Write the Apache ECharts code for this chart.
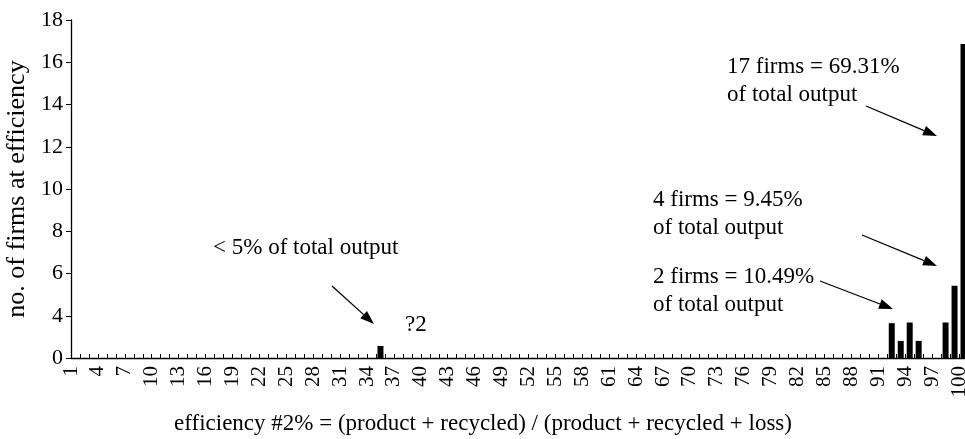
<!DOCTYPE html>
<html>
<head>
<meta charset="utf-8">
<script src="https://cdn.jsdelivr.net/npm/echarts@6/dist/echarts.min.js"></script>
<style>
  html, body { margin: 0; padding: 0; background: #fff; }
  #chart { width: 965px; height: 439px; }
</style>
</head>
<body>
<div id="chart"></div>
<script>
// efficiency classes that hold firms, and the bar heights
const barEfficiency = [35, 92, 93, 94, 95, 98, 99, 100]
const barFirms = [2.57, 3.65, 2.81, 3.68, 2.81, 3.68, 5.42, 16.86]

// efficiency classes 1..100 (one band each)
const efficiencyClasses = []
for (let i = 1; i <= 100; i++) efficiencyClasses.push(String(i))

const FONT = 'Liberation Serif'

const chart = echarts.init(document.getElementById('chart'))

const seriesData = efficiencyClasses.map(c => {
  const k = barEfficiency.indexOf(Number(c))
  return k >= 0 ? barFirms[k] : 0
})

// annotation texts (pixel layout)
const notes = [
  { lines: ['< 5% of total output'], x: 213, y: 248 },
  { lines: ['?2'], x: 405, y: 325 },
  { lines: ['2 firms = 10.49%', 'of total output'], x: 653, y: 277 },
  { lines: ['4 firms = 9.45%', 'of total output'], x: 653, y: 200 },
  { lines: ['17 firms = 69.31%', 'of total output'], x: 727, y: 67 }
]
const arrows = [
  [332, 286, 374, 324],
  [820, 281, 893, 309],
  [862, 235, 937, 266],
  [866, 106, 937, 136]
]

function arrowGraphic(a) {
  const [x1, y1, x2, y2] = a
  const ang = Math.atan2(y2 - y1, x2 - x1)
  const L = 14, W = 5
  const bx = x2 - L * Math.cos(ang), by = y2 - L * Math.sin(ang)
  const px = -Math.sin(ang) * W, py = Math.cos(ang) * W
  return [
    { type: 'line', shape: { x1, y1, x2: bx, y2: by }, style: { stroke: '#000', lineWidth: 1.3 } },
    { type: 'polygon', shape: { points: [[x2, y2], [bx + px, by + py], [bx - px, by - py]] }, style: { fill: '#000' } }
  ]
}

const graphics = []
notes.forEach(n => {
  n.lines.forEach((t, i) => {
    graphics.push({
      type: 'text',
      style: { text: t, x: n.x, y: n.y + i * 28, fill: '#000', font: '23px "' + FONT + '"', textVerticalAlign: 'middle' }
    })
  })
})
arrows.forEach(a => graphics.push(...arrowGraphic(a)))
graphics.push({
  type: 'text',
  style: {
    text: 'efficiency #2% = (product + recycled) / (product + recycled + loss)',
    x: 483, y: 424, fill: '#000', font: '23px "' + FONT + '"',
    textAlign: 'center', textVerticalAlign: 'middle'
  }
})

chart.setOption({
  animation: false,
  backgroundColor: '#fff',
  grid: { left: 71, top: 20, width: 897, height: 338, containLabel: false, outerBoundsMode: 'none' },
  xAxis: [
    {
      type: 'value',
      min: 1,
      max: 101,
      interval: 1,
      axisLine: { lineStyle: { color: '#000', width: 1.3 } },
      axisTick: { inside: true, length: 4, lineStyle: { color: '#000' } },
      axisLabel: {
        rotate: 90,
        margin: 8,
        color: '#000',
        fontFamily: FONT,
        fontSize: 21,
        formatter: v => (v <= 100 && (v - 1) % 3 === 0 ? String(v) : '')
      },
      splitLine: { show: false }
    },
    {
      type: 'category',
      data: efficiencyClasses,
      boundaryGap: true,
      show: false
    }
  ],
  yAxis: {
    type: 'value',
    min: 2,
    max: 18,
    interval: 2,
    name: 'no. of firms at efficiency',
    nameLocation: 'middle',
    nameGap: 38,
    nameTextStyle: { color: '#000', fontFamily: FONT, fontSize: 26 },
    axisLine: { show: true, lineStyle: { color: '#000', width: 1.3 } },
    axisTick: { show: true, length: 5, lineStyle: { color: '#000' } },
    axisLabel: {
      color: '#000',
      fontFamily: FONT,
      fontSize: 22,
      margin: 8,
      formatter: v => (v === 2 ? '0' : String(v))
    },
    splitLine: { show: false }
  },
  series: [
    {
      type: 'bar',
      xAxisIndex: 1,
      data: seriesData,
      barWidth: 6,
      itemStyle: { color: '#000' }
    }
  ],
  graphic: graphics
})
</script>
</body>
</html>
